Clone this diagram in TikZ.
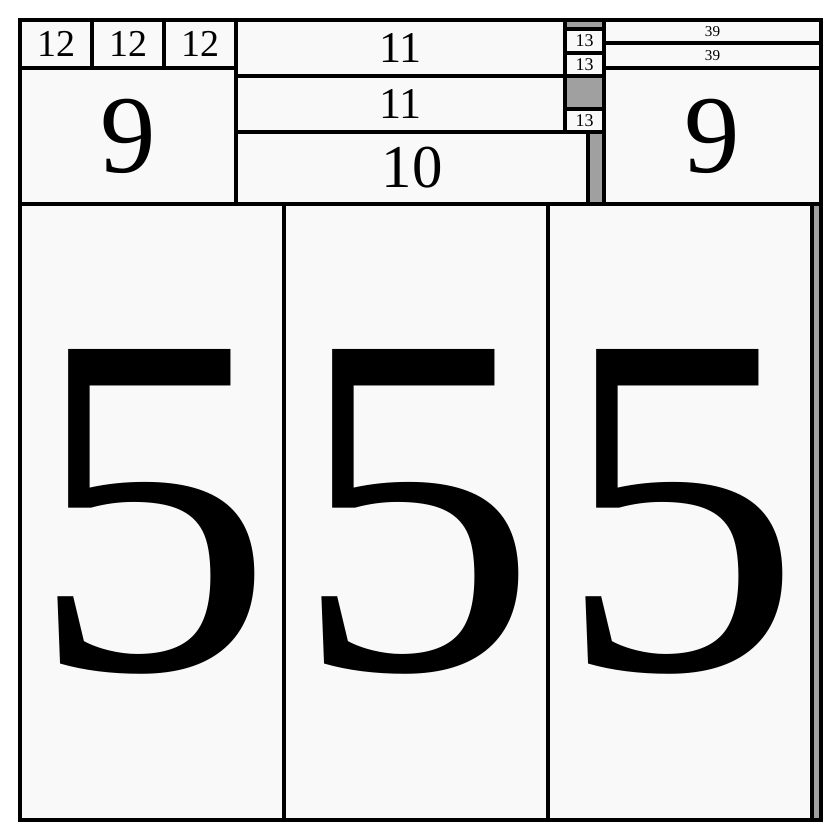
\documentclass[tikz,border=0pt]{standalone}
\usepackage{fontspec}
\setmainfont{Liberation Serif}

\definecolor{cellfill}{HTML}{F9F9F9}
\definecolor{gapfill}{HTML}{A0A0A0}
\newcommand{\fsz}[1]{\fontsize{#1}{#1}\selectfont}

\begin{document}
\begin{tikzpicture}[x = 0.01cm, y = -0.01cm,
    cell/.style = {draw, fill = cellfill, line width = 1pt, inner sep = 0pt, outer sep = 0pt},
    box/.style 2 args = {minimum width = #1*0.01cm, minimum height = #2*0.01cm},
    gapbar/.style = {draw, fill = gapfill, line width = 1pt}]
    \useasboundingbox (0,0) rectangle (840,840);

    % gray strips behind the cells
    \draw [gapbar] (565,20) rectangle (604,204);
    \draw [gapbar] (812,204) rectangle (821,820);

    % top left
    \foreach \i/\cx in {A/56, B/128, C/200}
        \node [cell, box = {72}{48}, font = \fsz{10.8}] (twelve\i) at (\cx,44) {12};
    \node [cell, box = {216}{136}, font = \fsz{31.5}] (nineL) at (128,136) {9};

    % middle
    \node [cell, box = {329}{56}, font = \fsz{12.5}] (elevenA) at (400.5,48) {11};
    \node [cell, box = {329}{56}, font = \fsz{12.5}] (elevenB) at (400.5,104) {11};
    \node [cell, box = {352}{72}, font = \fsz{17.3}] (ten) at (412,168) {10};

    \node [cell, box = {39}{24}, font = \fsz{5.1}] (thirteenA) at (584.5,41) {13};
    \node [cell, box = {39}{23}, font = \fsz{5.1}] (thirteenB) at (584.5,64.5) {13};
    \node [cell, box = {39}{23}, font = \fsz{5.1}] (thirteenC) at (584.5,120.5) {13};

    % top right
    \node [cell, box = {217}{23}, font = \fsz{4.3}] (thirtynineA) at (712.5,31.5) {39};
    \node [cell, box = {217}{25}, font = \fsz{4.3}] (thirtynineB) at (712.5,55.5) {39};
    \node [cell, box = {217}{136}, font = \fsz{31.5}] (nineR) at (712.5,136) {9};

    % bottom
    \foreach \i/\cx in {A/152, B/416, C/680}
        \node [cell, box = {264}{616}, font = \fsz{139}] (five\i) at (\cx,512) {5};

\end{tikzpicture}
\end{document}
